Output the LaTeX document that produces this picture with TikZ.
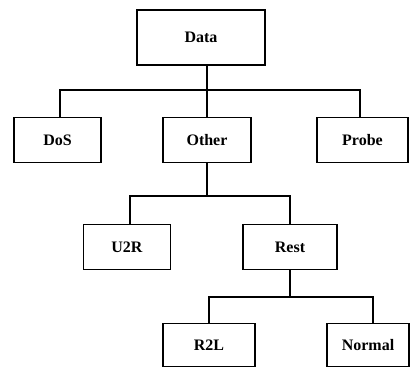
\documentclass[tikz,border=0pt]{standalone}
\usepackage{fontspec}
\setmainfont{Liberation Serif}
\begin{document}
\begin{tikzpicture}[x=1pt,y=-1pt]
			\tikzset{box/.style = {shape=rectangle,draw,line width=1.8pt,minimum height=45pt,font=\fontsize{16}{18}\selectfont\bfseries}}
			\tikzset{link/.style = {line width=1.4pt}}
			\useasboundingbox (0,0) rectangle (411,370);
			% classes
			\node[box,minimum width=128pt,minimum height=55pt] (data) at (201,37.5) {Data};
			\node[box,minimum width=87pt] (dos) at (57.5,140) {DoS};
			\node[box,minimum width=88pt] (other) at (207,140) {Other};
			\node[box,minimum width=91pt] (probe) at (362.5,140) {Probe};
			\node[box,minimum width=87pt] (u2r) at (127,247) {U2R};
			\node[box,minimum width=94pt] (rest) at (290,247) {Rest};
			\node[box,minimum width=92pt,minimum height=43pt] (r2l) at (209,345) {R2L};
			\node[box,minimum width=82pt,minimum height=43pt] (normal) at (368,345) {Normal};
			% branch points
			\coordinate (j1) at (207,90);
			\coordinate (j2) at (207,196);
			\coordinate (j3) at (290,297);
			% links
			\draw[link] (data.south -| j1) -- (j1);
			\draw[link] (j1) -| ([xshift=2.5pt]dos.north);
			\draw[link] (j1) -- (other);
			\draw[link] (j1) -| ([xshift=-2.5pt]probe.north);
			\draw[link] (other) -- (j2);
			\draw[link] (j2) -| ([xshift=3pt]u2r.north);
			\draw[link] (j2) -| (rest);
			\draw[link] (rest) -- (j3);
			\draw[link] (j3) -| (r2l);
			\draw[link] (j3) -| ([xshift=5pt]normal.north);
		\end{tikzpicture}
\end{document}
